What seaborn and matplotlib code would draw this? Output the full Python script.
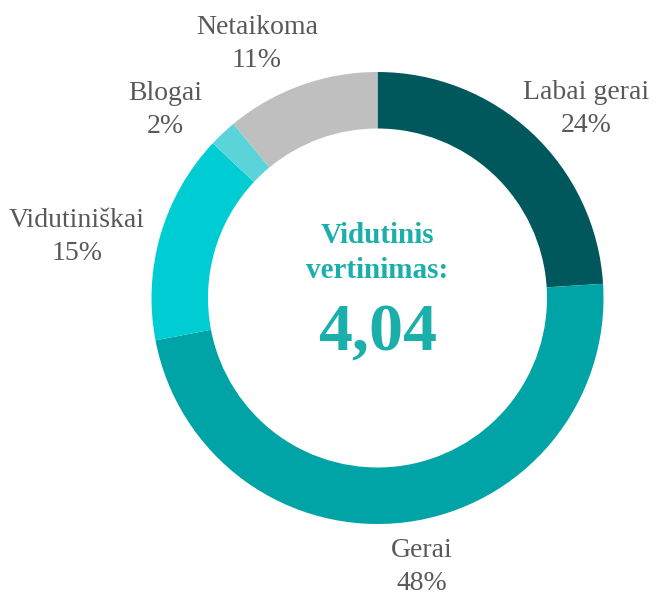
import numpy as np
import matplotlib
matplotlib.use('Agg')
import matplotlib.pyplot as plt
import seaborn as sns

categories = ['Labai gerai', 'Gerai', 'Vidutiniškai', 'Blogai', 'Netaikoma']
shares = [24, 48, 15, 2, 11]
colors = ['#00585c', '#00a3a6', '#00cdd3', '#5ad4d8', '#bfbfbf']
avg_label = 'Vidutinis\nvertinimas:'
avg_value = '4,04'

sns.set_theme(style='white')
plt.rcParams['font.family'] = ['Liberation Serif', 'DejaVu Serif']

W, H = 668, 595
cx, cy, R = 377.5, 298, 226  # pie centre / radius in pixels

fig = plt.figure(figsize=(W / 100, H / 100), dpi=100)
ax = fig.add_axes([0, 0, 1, 1])
ax.pie(shares, colors=colors, startangle=90, counterclock=False, radius=1,
       wedgeprops=dict(width=0.25, linewidth=0))
ax.set_xlim(-cx / R, (W - cx) / R)
ax.set_ylim(-(H - cy) / R, cy / R)
ax.set_aspect('equal')
ax.axis('off')

# label positions (pixels) picked to match the reference layout
label_px = [(586, 109), (422, 567), (77, 237), (165, 110), (257, 44)]
for name, val, (px, py) in zip(categories, shares, label_px):
    ax.text((px - cx) / R, (cy - py) / R, f'{name}\n{val}%', ha='center', va='center',
            fontsize=20, color='#595959', linespacing=1.42)

teal = '#1bafab'
ax.text(0, (cy - 253) / R, avg_label, ha='center', va='center', fontsize=21,
        fontweight='bold', color=teal, linespacing=1.4)
ax.text(0, (cy - 334) / R, avg_value, ha='center', va='center', fontsize=49,
        fontweight='bold', color=teal)

fig.savefig('out.png', dpi=100)
